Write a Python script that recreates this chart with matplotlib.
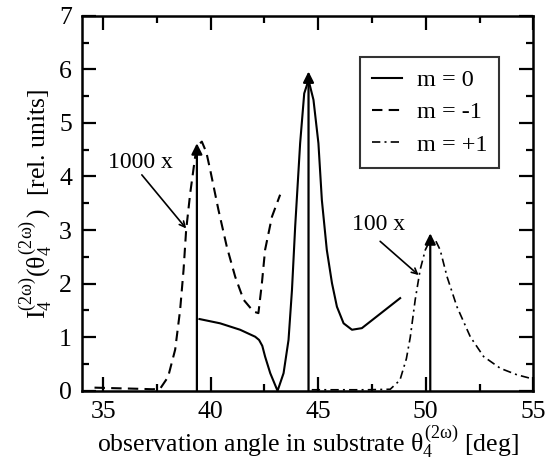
import matplotlib
matplotlib.use("Agg")
import matplotlib.pyplot as plt

plt.rcParams['font.family'] = ['Liberation Serif', 'DejaVu Serif']
plt.rcParams['mathtext.fontset'] = 'custom'
plt.rcParams['mathtext.rm'] = 'Liberation Serif'
plt.rcParams['mathtext.it'] = 'Liberation Serif'
plt.rcParams['mathtext.bf'] = 'Liberation Serif:bold'

# m = -1 (dashed)
x_m1 = [34.6, 35.5, 36.5, 37.3, 37.65, 38.02, 38.35, 38.58, 38.74, 38.86, 39.05, 39.28, 39.45, 39.59,
        39.8, 39.98, 40.36, 40.75, 41.14, 41.53, 41.99, 42.22, 42.38, 42.53, 42.85, 43.23]
y_m1 = [0.06, 0.05, 0.04, 0.03, 0.04, 0.26, 0.77, 1.51, 2.26, 3.0, 3.69, 4.37, 4.6, 4.65,
        4.45, 4.12, 3.38, 2.69, 2.13, 1.70, 1.48, 1.45, 2.0, 2.63, 3.25, 3.66]

# m = 0 (solid)
x_0 = [39.48, 40.44, 41.37, 42.07, 42.25, 42.4, 42.53, 42.77, 43.11, 43.39, 43.62, 43.78, 43.93, 44.16,
       44.35, 44.55, 44.78, 45.01, 45.17, 45.40, 45.64, 45.87, 46.18, 46.57, 47.03, 47.73, 48.81]
y_0 = [1.34, 1.26, 1.14, 1.01, 0.95, 0.84, 0.64, 0.33, 0.0, 0.33, 0.95, 1.88, 3.07, 4.62,
       5.55, 5.8, 5.43, 4.62, 3.56, 2.63, 2.01, 1.57, 1.26, 1.14, 1.17, 1.39, 1.73]

# m = +1 (dash-dot)
x_p1 = [44.7, 46.0, 47.3, 48.35, 48.8, 49.1, 49.28, 49.51, 49.74, 49.98, 50.21, 50.44, 50.67, 50.99,
        51.45, 52.07, 52.69, 53.47, 54.24, 55.0]
y_p1 = [0.02, 0.02, 0.02, 0.03, 0.2, 0.6, 1.0, 1.70, 2.26, 2.63, 2.82, 2.82, 2.63, 2.13,
        1.57, 1.01, 0.64, 0.42, 0.30, 0.22]

# vertical arrows (peak markers)
arrow_x = [39.36, 44.55, 50.21]
arrow_top = [4.62, 5.96, 2.94]

labels = ['m = 0', 'm = -1', 'm = +1']
xticks = [35, 40, 45, 50, 55]
yticks = [0, 1, 2, 3, 4, 5, 6, 7]

fig = plt.figure(figsize=(5.59, 4.62), dpi=100)
ax = fig.add_axes([0.146, 0.154, 0.808, 0.812])

ax.plot(x_0, y_0, color='black', lw=1.5, label=labels[0])
ax.plot(x_m1, y_m1, color='black', lw=1.5, dashes=(5, 3), label=labels[1])
ax.plot(x_p1, y_p1, color='black', lw=1.2, dashes=(5, 2.5, 1.2, 2.5), label=labels[2])

for xa, ya in zip(arrow_x, arrow_top):
    ax.annotate('', xy=(xa, ya), xytext=(xa, 0),
                arrowprops=dict(arrowstyle='-|>', color='black', lw=1.6,
                                mutation_scale=16, shrinkA=0, shrinkB=0))

ax.text(36.74, 4.27, '1000 x', ha='center', va='center', fontsize=17)
ax.annotate('', xy=(38.86, 3.03), xytext=(36.8, 4.03),
            arrowprops=dict(arrowstyle='->', color='black', lw=1.2, shrinkA=0, shrinkB=0))
ax.text(47.8, 3.10, '100 x', ha='center', va='center', fontsize=17)
ax.annotate('', xy=(49.67, 2.16), xytext=(47.88, 2.79),
            arrowprops=dict(arrowstyle='->', color='black', lw=1.2, shrinkA=0, shrinkB=0))

ax.set_xlim(34, 55)
ax.set_ylim(0, 7)
ax.set_xticks(xticks)
ax.set_yticks(yticks)
ax.set_xticks([37.5, 42.5, 47.5, 52.5], minor=True)
ax.set_yticks([0.5, 1.5, 2.5, 3.5, 4.5, 5.5, 6.5], minor=True)
ax.tick_params(which='both', direction='in', top=True, right=True, labelsize=18.5, width=1.6, pad=7)
ax.tick_params(which='major', length=10)
ax.tick_params(which='minor', length=5)
for s in ax.spines.values():
    s.set_linewidth(1.8)

ax.set_xlabel(r'observation angle in substrate $\theta_4^{(2\omega)}$ [deg]', fontsize=18.5, labelpad=1)
ax.set_ylabel(r'$\mathrm{I}_4^{(2\omega)}(\theta_4^{(2\omega)}\,)$  [rel. units]', fontsize=18.5, labelpad=3)

leg = ax.legend(loc='upper right', bbox_to_anchor=(0.925, 0.89), fontsize=17.5, frameon=True,
                fancybox=False, handlelength=1.25, borderpad=0.5, labelspacing=0.42,
                handletextpad=0.6, borderaxespad=0)
leg.get_frame().set_edgecolor('black')
leg.get_frame().set_linewidth(1.5)

fig.savefig('out.png', dpi=100)
